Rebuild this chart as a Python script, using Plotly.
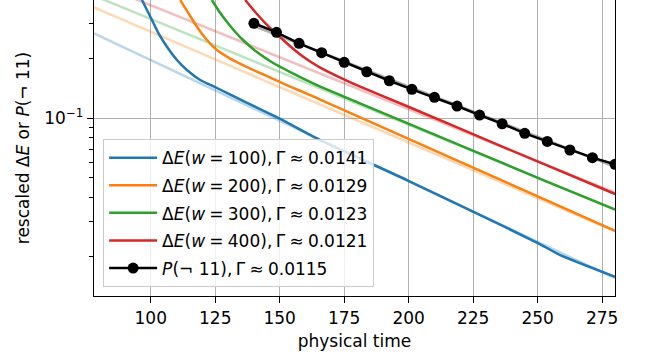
import plotly.graph_objects as go

# ---- data ----
t_w100 = [96.59, 98.53, 100.47, 103.02, 106.28, 110.16, 114.03, 119.19, 125.66, 135.97, 149.81, 165.70, 199.30, 225.12, 250.31, 258.72, 280.04]
v_w100 = [0.3958, 0.3524, 0.3136, 0.2687, 0.2299, 0.1970, 0.1754, 0.1561, 0.1423, 0.1221, 0.1000, 0.0777, 0.0488, 0.03375, 0.02337, 0.02040, 0.01585]

t_w200 = [111.43, 114.65, 117.91, 121.78, 125.66, 130.81, 137.29, 146.32, 154.07, 161.82, 165.70, 196.71, 234.19, 280.04]
v_w200 = [0.3958, 0.3391, 0.2902, 0.2486, 0.2213, 0.2004, 0.1816, 0.1607, 0.1447, 0.1311, 0.1244, 0.0823, 0.0499, 0.02703]

t_w300 = [123.72, 126.94, 130.81, 135.35, 141.16, 147.48, 154.07, 157.95, 165.70, 200.58, 252.13, 280.04]
v_w300 = [0.3958, 0.3402, 0.2926, 0.2515, 0.2162, 0.1902, 0.1713, 0.1616, 0.1447, 0.0933, 0.0488, 0.0346]

t_w400 = [136.63, 140.50, 144.38, 148.64, 153.29, 157.95, 161.82, 165.70, 173.45, 181.20, 200.58, 237.40, 280.04]
v_w400 = [0.3958, 0.3442, 0.3029, 0.2681, 0.2359, 0.2100, 0.1936, 0.1805, 0.1607, 0.1447, 0.1134, 0.0710, 0.0415]

t_p = [140, 148.75, 157.5, 166.25, 175, 183.75, 192.5, 201.25, 210, 218.75, 227.5, 236.25, 245, 253.75, 262.5, 271.25, 280]
v_p = [0.302, 0.2718, 0.2392, 0.2145, 0.1918, 0.1719, 0.1548, 0.1401, 0.1277, 0.1154, 0.1039, 0.0939, 0.0840, 0.0765, 0.0692, 0.0633, 0.0586]

# exponential fits (straight on a log axis): endpoints
fit_t = [78.0, 280.0]
fit_w100 = [0.2685, 0.01559]
fit_w200 = [0.3636, 0.02689]
fit_w300 = [0.416, 0.0347]
fit_w400 = [0.486, 0.0422]
fit_p_t = [140.0, 280.0]
fit_p = [0.2924, 0.0569]

SP = "\u2005"   # medium math space
TH = "\u2009"   # thin space
labels = [
    f"Δ<i>E</i>(<i>w</i>{SP}={SP}100),{TH}Γ{SP}≈{SP}0.0141",
    f"Δ<i>E</i>(<i>w</i>{SP}={SP}200),{TH}Γ{SP}≈{SP}0.0129",
    f"Δ<i>E</i>(<i>w</i>{SP}={SP}300),{TH}Γ{SP}≈{SP}0.0123",
    f"Δ<i>E</i>(<i>w</i>{SP}={SP}400),{TH}Γ{SP}≈{SP}0.0121",
    f"<i>P</i>(¬ 11),{TH}Γ{SP}≈{SP}0.0115",
]
colors = ["#1f77b4", "#ff7f0e", "#2ca02c", "#d62728", "#000000"]
faded = ["rgba(31,119,180,0.3)", "rgba(255,127,14,0.3)", "rgba(44,160,44,0.3)",
         "rgba(214,39,40,0.3)", "rgba(0,0,0,0.3)"]

xticks = [100, 125, 150, 175, 200, 225, 250, 275]
yminor = [0.02, 0.03, 0.04, 0.05, 0.06, 0.07, 0.08, 0.09, 0.2, 0.3]

fig = go.Figure()
LW = 2.5

fits = [(fit_t, fit_w100), (fit_t, fit_w200), (fit_t, fit_w300), (fit_t, fit_w400), (fit_p_t, fit_p)]
for (ft, fv), fc in zip(fits, faded):
    fig.add_trace(go.Scatter(x=ft, y=fv, mode="lines", line=dict(color=fc, width=LW),
                             showlegend=False, hoverinfo="skip"))

series = [(t_w100, v_w100), (t_w200, v_w200), (t_w300, v_w300), (t_w400, v_w400)]
for i, (tt, vv) in enumerate(series):
    fig.add_trace(go.Scatter(x=tt, y=vv, mode="lines", name=labels[i],
                             line=dict(color=colors[i], width=LW, shape="spline", smoothing=0.5),
                             legendgroup=str(i)))
fig.add_trace(go.Scatter(x=t_p, y=v_p, mode="lines+markers", name=labels[4],
                         line=dict(color="black", width=LW),
                         marker=dict(color="black", size=11), legendgroup="4"))

FONT = "DejaVu Sans"
fig.update_layout(
    width=646, height=360,
    margin=dict(l=94, r=31, t=0, b=64),
    paper_bgcolor="white", plot_bgcolor="white",
    font=dict(family=FONT, size=17, color="black"),
    showlegend=True,
    legend=dict(x=0.0175, y=0.03, xanchor="left", yanchor="bottom",
                bgcolor="rgba(255,255,255,0.8)", bordercolor="#cccccc", borderwidth=1,
                font=dict(family=FONT, size=17), tracegroupgap=2.5, traceorder="grouped",
                itemwidth=48),
    xaxis=dict(range=[78.0, 280.0], tickvals=xticks, ticks="outside", ticklen=6,
               tickcolor="black", showline=True, linecolor="black", linewidth=1.3,
               showgrid=True, gridcolor="#b0b0b0", gridwidth=1.3, zeroline=False,
               title=dict(text="physical time", standoff=8, font=dict(size=17))),
    yaxis=dict(type="log", range=[-1.897, -0.4025], tickvals=[0.1], ticktext=["10<sup>−1</sup>"],
               ticks="outside", ticklen=6, tickcolor="black",
               showline=True, linecolor="black", linewidth=1.3, mirror=True,
               showgrid=True, gridcolor="#b0b0b0", gridwidth=1.3, zeroline=False,
               minor=dict(tickvals=yminor, ticks="outside", ticklen=3.5, tickcolor="black",
                          showgrid=False),
               title=dict(text="rescaled Δ<i>E</i> or <i>P</i>(¬ 11)", standoff=10,
                          font=dict(size=17))),
)

fig.write_html("out.html")
